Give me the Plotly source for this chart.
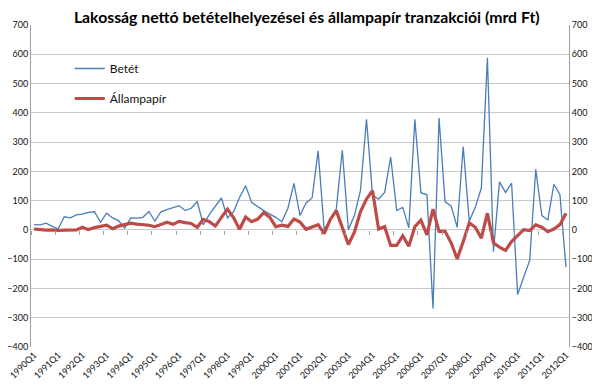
import plotly.graph_objects as go

quarters = [f"{y}Q{q}" for y in range(1990, 2013) for q in range(1, 5)][:89]

betet = [18, 17, 23, 12, 4, 45, 41, 51, 54, 60,
         62, 26, 57, 41, 31, 6, 41, 40, 43, 63,
         30, 62, 69, 76, 83, 66, 74, 97, 17, 53,
         80, 109, 41, 62, 111, 151, 94, 79, 66, 54,
         43, 28, 74, 159, 49, 92, 109, 270, 1, 37,
         71, 272, 1, 49, 134, 378, 119, 105, 128, 249,
         66, 77, 7, 378, 127, 120, -268, 382, 96, 82,
         9, 285, 30, 77, 143, 588, -74, 164, 128, 160,
         -221, -162, -104, 207, 49, 34, 156, 120, -127]

allampapir = [3, 0, -1, 0, -2, -1, -1, 0, 9, 1,
              8, 12, 16, 4, 13, 18, 23, 20, 18, 16,
              11, 18, 26, 19, 29, 25, 22, 9, 36, 28,
              13, 43, 71, 42, 2, 44, 28, 37, 59, 43,
              11, 16, 12, 37, 27, 2, 9, 18, -13, 35,
              66, 9, -50, -8, 62, 105, 134, 3, 11, -53,
              -53, -20, -56, 11, 33, -17, 71, -5, -5, -44,
              -99, -40, 24, 9, -28, 57, -44, -59, -70, -40,
              -19, 1, -2, 17, 9, -6, 3, 18, 57]

tick_labels = quarters[::4]
y_ticks = list(range(-400, 701, 100))

font_family = "Lato, Liberation Sans, sans-serif"

fig = go.Figure()
# invisible helper trace so the right-hand axis and zero-line ticks are drawn
fig.add_trace(go.Scatter(x=list(range(len(quarters))), y=betet, mode="lines",
                         line=dict(width=0, color="rgba(0,0,0,0)"), showlegend=False,
                         hoverinfo="skip", xaxis="x2", yaxis="y2"))
fig.add_trace(go.Scatter(x=quarters, y=betet, mode="lines", name="Betét",
                         line=dict(color="#4A7EBB", width=1.3), legendgroup="a"))
fig.add_trace(go.Scatter(x=quarters, y=allampapir, mode="lines", name="Állampapír",
                         line=dict(color="#BE4B48", width=3.2), legendgroup="b"))

fig.update_layout(
    width=600, height=392,
    margin=dict(l=23, r=39, t=17, b=53, autoexpand=False),
    paper_bgcolor="white", plot_bgcolor="white",
    title=dict(text="<b>Lakosság nettó betételhelyezései és állampapír tranzakciói (mrd Ft)</b>",
               x=0.498, xanchor="center", y=0.976, yanchor="middle",
               font=dict(family=font_family, size=15.8, color="#000000")),
    font=dict(family=font_family, size=9, color="#111111"),
    showlegend=True,
    legend=dict(x=0.072, y=0.91, xanchor="left", yanchor="top",
                bgcolor="rgba(0,0,0,0)", font=dict(size=12, family=font_family),
                traceorder="grouped", tracegroupgap=11),
    xaxis=dict(type="category", categoryorder="array", categoryarray=quarters,
               range=[-0.5, 88.5], tickmode="array", tickvals=tick_labels,
               ticktext=tick_labels, tickangle=-45, showgrid=False, ticks="",
               showline=False, zeroline=False, automargin=False, tickfont=dict(size=9)),
    xaxis2=dict(overlaying="x", anchor="free", position=400/1100,
                range=[-0.5, 88.5], tickmode="linear", tick0=-0.5, dtick=4,
                ticks="outside", ticklen=4, tickcolor="#A0A0A0",
                showticklabels=False, showgrid=False, zeroline=False, showline=False),
    yaxis=dict(range=[-400, 700], tickmode="array", tickvals=y_ticks,
               showgrid=True, gridcolor="#C8C8C8", gridwidth=1,
               zeroline=False, showline=True, linecolor="#A0A0A0", automargin=False,
               ticks="", tickfont=dict(size=9)),
    yaxis2=dict(range=[-400, 700], tickmode="array", tickvals=y_ticks,
                overlaying="y", side="right", anchor="x",
                showgrid=False, zeroline=False, showline=True, linecolor="#A0A0A0",
                automargin=False, ticks="", tickfont=dict(size=9)),
)

fig.write_html("out.html")
